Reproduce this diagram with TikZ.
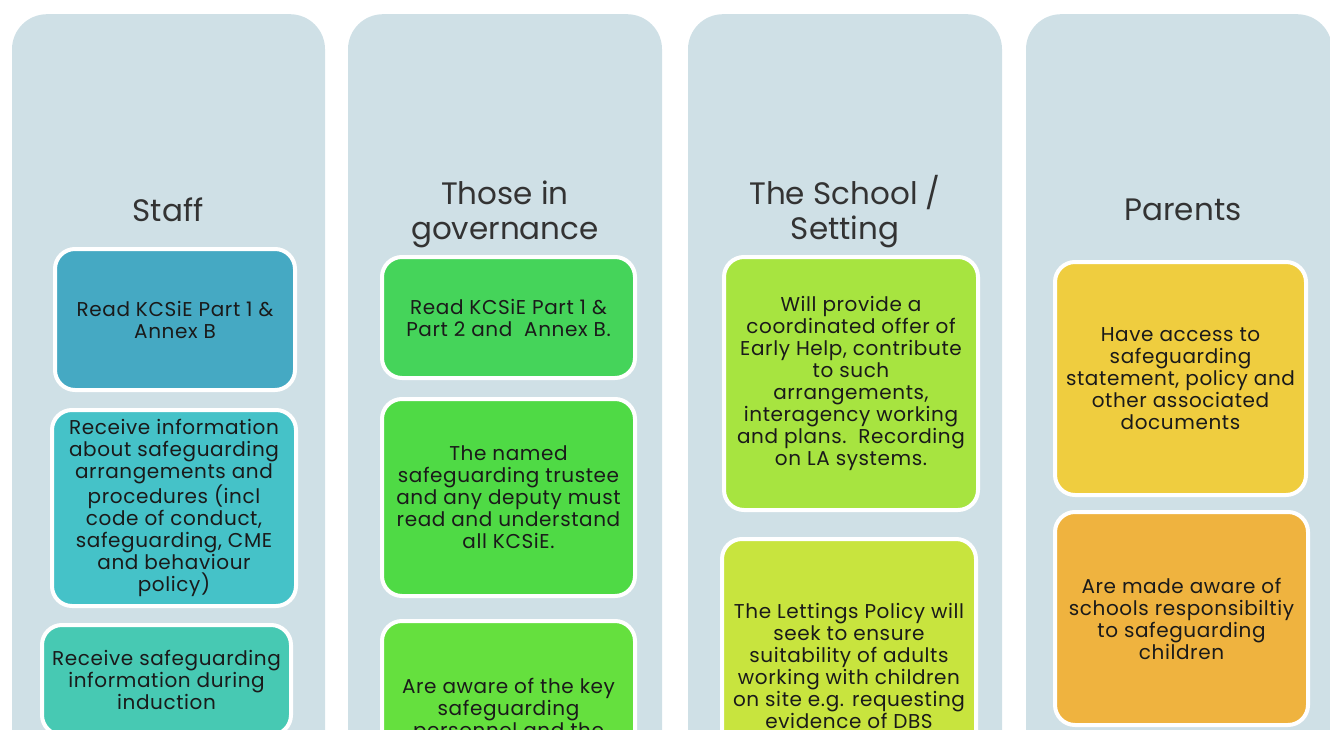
\documentclass[tikz,border=0pt]{standalone}
\usepackage{fontspec}
\setmainfont{Poppins}
\newfontfamily\cardfont[LetterSpace=3]{Poppins}
\definecolor{colbg}{HTML}{CFE0E6}
\definecolor{stA}{HTML}{45A9C3}
\definecolor{stB}{HTML}{45C2C8}
\definecolor{stC}{HTML}{47C9B3}
\definecolor{gvA}{HTML}{45D45A}
\definecolor{gvB}{HTML}{4FDA45}
\definecolor{gvC}{HTML}{65E03E}
\definecolor{scA}{HTML}{A7E440}
\definecolor{scB}{HTML}{C8E43E}
\definecolor{paA}{HTML}{EFCD3F}
\definecolor{paB}{HTML}{EFB33F}
\definecolor{txt}{HTML}{1A1A1A}
\definecolor{ttl}{HTML}{333333}
\tikzset{
  column/.style={fill=colbg, draw=none, rounded corners=35pt, inner sep=0pt},
  card/.style={draw=white, line width=4pt, rounded corners=20pt, inner sep=0pt,
    align=center, text=txt, font=\cardfont\fontsize{20}{22}\selectfont},
  cardtext/.style={inner sep=0pt, align=center, text=txt, font=\cardfont\fontsize{20}{22}\selectfont},
  heading/.style={inner sep=0pt, align=center, text=ttl, font=\fontsize{31}{35}\selectfont}
}
\begin{document}
\begin{tikzpicture}[x=1pt,y=-1pt]
\useasboundingbox (0,0) rectangle (1330,730);
\clip (0,0) rectangle (1330,730);
% columns
\node[column, minimum width=313pt, minimum height=800pt, anchor=north] (colA) at (168.5,14) {};
\node[column, minimum width=314pt, minimum height=800pt, anchor=north] (colB) at (505,14) {};
\node[column, minimum width=314pt, minimum height=800pt, anchor=north] (colC) at (845,14) {};
\node[column, minimum width=306pt, minimum height=800pt, anchor=north] (colD) at (1179,14) {};
% headings
\node[heading] (hA) at (168,210) {Staff};
\node[heading] (hB) at (505,214.5) {Those in\\governance};
\node[heading] (hC) at (845,212) {The School /\\Setting};
\node[heading] (hD) at (1183,210) {Parents};
% staff
\node[card, fill=stA, minimum width=240pt, minimum height=141pt] (sA) at (175,319.5)
  {Read KCSiE Part 1 \&\\Annex B};
\node[card, fill=stB, minimum width=244pt, minimum height=196pt] (sB) at (174,508)
  {Receive information\\about safeguarding\\arrangements and\\procedures (incl\\code of conduct,\\safeguarding, CME\\and behaviour\\policy)};
\node[card, fill=stC, minimum width=249pt, minimum height=110pt] (sC) at (166.5,680)
  {Receive safeguarding\\information during\\induction};
% governance
\node[card, fill=gvA, minimum width=253pt, minimum height=121pt] (gA) at (508.5,317.5)
  {Read KCSiE Part 1 \&\\Part 2 and\ \ Annex B.};
\node[card, fill=gvB, minimum width=253pt, minimum height=197pt] (gB) at (508.5,497.5)
  {The named\\safeguarding trustee\\and any deputy must\\read and understand\\all KCSiE.};
\node[card, fill=gvC, minimum width=253pt, minimum height=240pt, anchor=north] (gC) at (508.5,619) {};
\node[cardtext, anchor=north] (gCt) at (508.5,678)
  {Are aware of the key\\safeguarding\\personnel and the};
% school
\node[card, fill=scA, minimum width=254pt, minimum height=253pt] (cA) at (851,383.5)
  {Will provide a\\coordinated offer of\\Early Help, contribute\\to such\\arrangements,\\interagency working\\and plans.\ \ Recording\\on LA systems.};
\node[card, fill=scB, minimum width=254pt, minimum height=260pt, anchor=north] (cB) at (849,537) {};
\node[cardtext, anchor=north] (cBt) at (849,603)
  {The Lettings Policy will\\seek to ensure\\suitability of adults\\working with children\\on site e.g. requesting\\evidence of DBS};
% parents
\node[card, fill=paA, minimum width=251pt, minimum height=233pt] (pA) at (1180.5,378.5)
  {Have access to\\safeguarding\\statement, policy and\\other associated\\documents};
\node[card, fill=paB, minimum width=253pt, minimum height=213pt] (pB) at (1181.5,618.5)
  {Are made aware of\\schools responsibiltiy\\to safeguarding\\children};
\end{tikzpicture}
\end{document}
